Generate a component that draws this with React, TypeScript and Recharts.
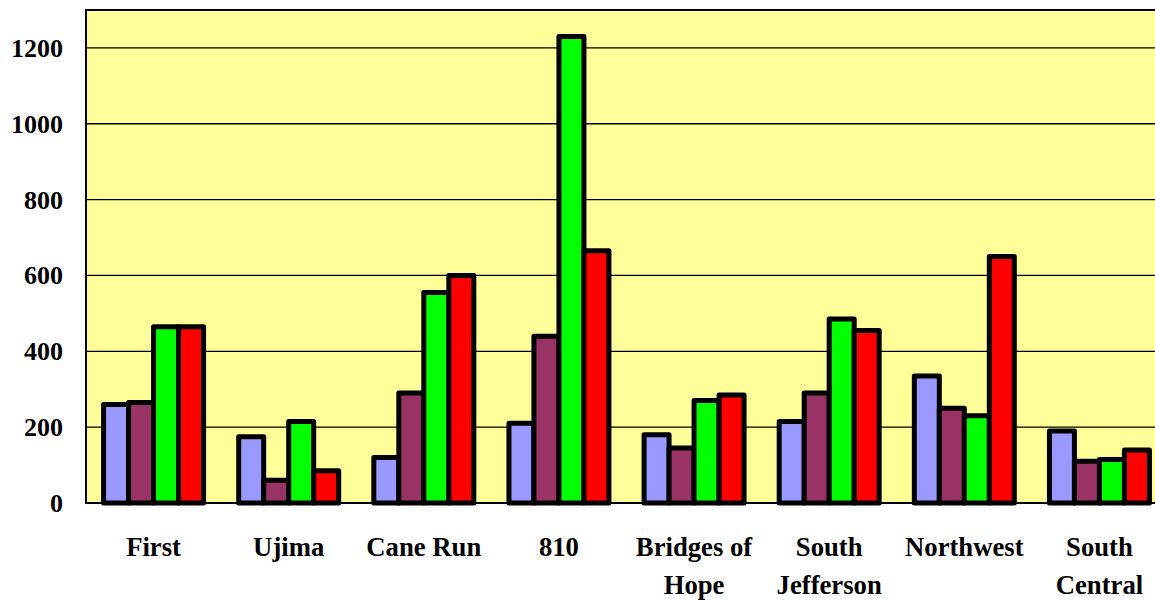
import React from "react";
import {
  BarChart,
  Bar,
  XAxis,
  YAxis,
  CartesianGrid,
  ReferenceArea,
} from "recharts";

const categories = [
  "First",
  "Ujima",
  "Cane Run",
  "810",
  "Bridges of\nHope",
  "South\nJefferson",
  "Northwest",
  "South\nCentral",
];
const seriesA = [260, 175, 120, 210, 180, 215, 335, 190];
const seriesB = [265, 60, 290, 440, 145, 290, 250, 110];
const seriesC = [465, 215, 555, 1230, 270, 485, 230, 115];
const seriesD = [465, 85, 600, 665, 285, 455, 650, 140];
const yTicks = [0, 200, 400, 600, 800, 1000, 1200];
const boundaryTicks = [0, 1, 2, 3, 4, 5, 6, 7, 8];

const data = categories.map((name, i) => ({
  name,
  a: seriesA[i],
  b: seriesB[i],
  c: seriesC[i],
  d: seriesD[i],
}));

const FONT = '"Liberation Serif", "Times New Roman", Times, serif';

const CategoryTick = (props: any) => {
  const { x, y, payload } = props;
  const lines = String(payload.value).split("\n");
  return (
    <text
      x={x}
      y={y}
      textAnchor="middle"
      style={{ fontFamily: FONT, fontWeight: 700, fontSize: 26.7 }}
      fill="#000"
    >
      {lines.map((l, i) => (
        <tspan key={i} x={x} dy={i === 0 ? 53 : 38}>
          {l}
        </tspan>
      ))}
    </text>
  );
};

const ValueTick = (props: any) => {
  const { x, y, payload } = props;
  return (
    <text
      x={x}
      y={y}
      dy={9}
      textAnchor="end"
      style={{ fontFamily: FONT, fontWeight: 700, fontSize: 26 }}
      fill="#000"
    >
      {payload.value}
    </text>
  );
};

export default function App() {
  return (
    <div
      style={{
        position: "fixed",
        left: 0,
        top: 0,
        width: 1155,
        height: 600,
        overflow: "hidden",
        background: "#fff",
      }}
    >
      <BarChart
        width={1171}
        height={600}
        data={data}
        margin={{ top: 10, right: 4, bottom: 0, left: 0 }}
        barCategoryGap="13%"
        barGap={0}
      >
        <CartesianGrid
          vertical={false}
          stroke="#000"
          strokeWidth={1.3}
          fill="#FFFF99"
          fillOpacity={1}
        />
        <XAxis
          xAxisId="b"
          type="number"
          domain={[0, 8]}
          allowDataOverflow
          ticks={boundaryTicks}
          tick={false}
          tickSize={9}
          tickLine={{ stroke: "#000", strokeWidth: 1.5 }}
          axisLine={{ stroke: "#000", strokeWidth: 2 }}
          height={0}
        />
        <XAxis
          dataKey="name"
          interval={0}
          tick={<CategoryTick />}
          tickLine={false}
          axisLine={false}
          tickSize={0}
          tickMargin={0}
          height={97}
        />
        <YAxis
          domain={[0, 1300]}
          ticks={yTicks}
          interval={0}
          width={86}
          tickLine={false}
          axisLine={false}
          tickSize={0}
          tickMargin={23}
          tick={<ValueTick />}
        />
        <ReferenceArea
          y1={0}
          y2={1300}
          fill="none"
          stroke="#000"
          strokeWidth={2}
        />
        <Bar dataKey="a" fill="#9999FF" stroke="#000" strokeWidth={5} strokeLinejoin="round" isAnimationActive={false} />
        <Bar dataKey="b" fill="#993366" stroke="#000" strokeWidth={5} strokeLinejoin="round" isAnimationActive={false} />
        <Bar dataKey="c" fill="#00FF00" stroke="#000" strokeWidth={5} strokeLinejoin="round" isAnimationActive={false} />
        <Bar dataKey="d" fill="#FF0000" stroke="#000" strokeWidth={5} strokeLinejoin="round" isAnimationActive={false} />
      </BarChart>
    </div>
  );
}
